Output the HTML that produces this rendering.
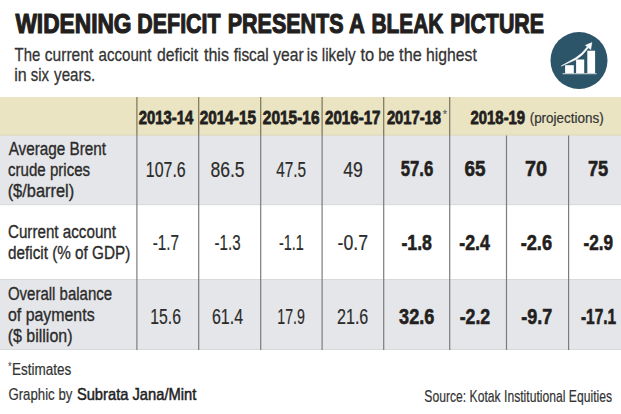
<!DOCTYPE html>
<html><head><meta charset="utf-8"><style>
html,body{margin:0;padding:0;background:#fff;}
body{width:621px;height:414px;overflow:hidden;}
svg{display:block;}
text{font-family:"Liberation Sans",sans-serif;}
</style></head><body>
<svg width="621" height="414" viewBox="0 0 621 414">
<rect width="621" height="414" fill="#fff"/>

<rect x="0" y="97" width="621" height="38.5" fill="#EAE4C3"/>
<rect x="0" y="135.5" width="621" height="69.5" fill="#E5E6E9"/>
<rect x="0" y="205" width="621" height="74" fill="#fff"/>
<rect x="0" y="279" width="621" height="71" fill="#E5E6E9"/>
<rect x="0" y="134.6" width="621" height="1" fill="#d9d5bd"/>
<rect x="0" y="204.2" width="621" height="1" fill="#d8d9db"/>
<rect x="0" y="279" width="621" height="1" fill="#d8d9db"/>
<rect x="0" y="349" width="621" height="1" fill="#d8d9db"/>
<rect x="136.3" y="97" width="1.2" height="38" fill="#78765f"/>
<rect x="136.3" y="135" width="1.2" height="215" fill="#7c7c7c"/>
<rect x="198.1" y="97" width="1.2" height="38" fill="#78765f"/>
<rect x="198.1" y="135" width="1.2" height="215" fill="#7c7c7c"/>
<rect x="260.1" y="97" width="1.2" height="38" fill="#78765f"/>
<rect x="260.1" y="135" width="1.2" height="215" fill="#7c7c7c"/>
<rect x="321.5" y="97" width="1.2" height="38" fill="#78765f"/>
<rect x="321.5" y="135" width="1.2" height="215" fill="#7c7c7c"/>
<rect x="383.1" y="97" width="1.2" height="38" fill="#78765f"/>
<rect x="383.1" y="135" width="1.2" height="215" fill="#7c7c7c"/>
<rect x="449.1" y="97" width="1.2" height="38" fill="#78765f"/>
<rect x="449.1" y="135" width="1.2" height="215" fill="#7c7c7c"/>
<rect x="505.9" y="135.5" width="1.2" height="214.5" fill="#7c7c7c"/>
<rect x="568.0" y="135.5" width="1.2" height="214.5" fill="#7c7c7c"/>


<circle cx="579" cy="60.5" r="28.5" fill="#2d5569"/>
<rect x="565.1" y="65.2" width="8.7" height="8.1" fill="#fff"/>
<rect x="576.1" y="59.5" width="8.1" height="13.8" fill="#fff"/>
<rect x="587.3" y="50.7" width="7.8" height="22.6" fill="#fff"/>
<rect x="562.6" y="73.3" width="34" height="0.9" fill="#e8eef0"/>
<path d="M561.3 66 Q570 62.2 576 59.6 Q583 55.5 588.3 47.8 L587.2 47 Q582 54 575.4 58.1 Q569 61.5 561.3 66 Z" fill="#fff" stroke="#fff" stroke-width="0.6" stroke-linejoin="round"/>
<path d="M585.4 45.3 L591.9 42.6 L590.7 49.6 Z" fill="#fff" stroke="#fff" stroke-width="0.5" stroke-linejoin="round"/>

<text x="15.40" y="33.30" font-size="27.8" font-weight="700" fill="#231f20" textLength="116.14" lengthAdjust="spacingAndGlyphs" stroke="#231f20" stroke-width="1.2" stroke-linejoin="round">WIDENING</text>
<text x="137.36" y="33.30" font-size="27.8" font-weight="700" fill="#231f20" textLength="83.19" lengthAdjust="spacingAndGlyphs" stroke="#231f20" stroke-width="1.2" stroke-linejoin="round">DEFICIT</text>
<text x="227.75" y="33.30" font-size="27.8" font-weight="700" fill="#231f20" textLength="115.71" lengthAdjust="spacingAndGlyphs" stroke="#231f20" stroke-width="1.2" stroke-linejoin="round">PRESENTS</text>
<text x="349.05" y="33.30" font-size="27.8" font-weight="700" fill="#231f20" textLength="15.85" lengthAdjust="spacingAndGlyphs" stroke="#231f20" stroke-width="1.2" stroke-linejoin="round">A</text>
<text x="371.39" y="33.30" font-size="27.8" font-weight="700" fill="#231f20" textLength="71.91" lengthAdjust="spacingAndGlyphs" stroke="#231f20" stroke-width="1.2" stroke-linejoin="round">BLEAK</text>
<text x="450.26" y="33.30" font-size="27.8" font-weight="700" fill="#231f20" textLength="93.78" lengthAdjust="spacingAndGlyphs" stroke="#231f20" stroke-width="1.2" stroke-linejoin="round">PICTURE</text>
<text x="14.61" y="60.85" font-size="19" font-weight="400" fill="#333" textLength="25.68" lengthAdjust="spacingAndGlyphs" stroke="#333" stroke-width="0.3" stroke-linejoin="round">The</text>
<text x="44.79" y="60.85" font-size="19" font-weight="400" fill="#333" textLength="48.48" lengthAdjust="spacingAndGlyphs" stroke="#333" stroke-width="0.3" stroke-linejoin="round">current</text>
<text x="98.61" y="60.85" font-size="19" font-weight="400" fill="#333" textLength="52.75" lengthAdjust="spacingAndGlyphs" stroke="#333" stroke-width="0.3" stroke-linejoin="round">account</text>
<text x="156.98" y="60.85" font-size="19" font-weight="400" fill="#333" textLength="41.19" lengthAdjust="spacingAndGlyphs" stroke="#333" stroke-width="0.3" stroke-linejoin="round">deficit</text>
<text x="204.01" y="60.85" font-size="19" font-weight="400" fill="#333" textLength="24.92" lengthAdjust="spacingAndGlyphs" stroke="#333" stroke-width="0.3" stroke-linejoin="round">this</text>
<text x="233.72" y="60.85" font-size="19" font-weight="400" fill="#333" textLength="35.08" lengthAdjust="spacingAndGlyphs" stroke="#333" stroke-width="0.3" stroke-linejoin="round">fiscal</text>
<text x="273.31" y="60.85" font-size="19" font-weight="400" fill="#333" textLength="30.38" lengthAdjust="spacingAndGlyphs" stroke="#333" stroke-width="0.3" stroke-linejoin="round">year</text>
<text x="306.85" y="60.85" font-size="19" font-weight="400" fill="#333" textLength="10.72" lengthAdjust="spacingAndGlyphs" stroke="#333" stroke-width="0.3" stroke-linejoin="round">is</text>
<text x="321.82" y="60.85" font-size="19" font-weight="400" fill="#333" textLength="33.87" lengthAdjust="spacingAndGlyphs" stroke="#333" stroke-width="0.3" stroke-linejoin="round">likely</text>
<text x="360.50" y="60.85" font-size="19" font-weight="400" fill="#333" textLength="13.73" lengthAdjust="spacingAndGlyphs" stroke="#333" stroke-width="0.3" stroke-linejoin="round">to</text>
<text x="378.20" y="60.85" font-size="19" font-weight="400" fill="#333" textLength="16.31" lengthAdjust="spacingAndGlyphs" stroke="#333" stroke-width="0.3" stroke-linejoin="round">be</text>
<text x="399.11" y="60.85" font-size="19" font-weight="400" fill="#333" textLength="22.64" lengthAdjust="spacingAndGlyphs" stroke="#333" stroke-width="0.3" stroke-linejoin="round">the</text>
<text x="426.05" y="60.85" font-size="19" font-weight="400" fill="#333" textLength="50.71" lengthAdjust="spacingAndGlyphs" stroke="#333" stroke-width="0.3" stroke-linejoin="round">highest</text>
<text x="14.27" y="81.35" font-size="19" font-weight="400" fill="#333" textLength="12.50" lengthAdjust="spacingAndGlyphs" stroke="#333" stroke-width="0.3" stroke-linejoin="round">in</text>
<text x="30.84" y="81.35" font-size="19" font-weight="400" fill="#333" textLength="18.19" lengthAdjust="spacingAndGlyphs" stroke="#333" stroke-width="0.3" stroke-linejoin="round">six</text>
<text x="54.11" y="81.35" font-size="19" font-weight="400" fill="#333" textLength="41.21" lengthAdjust="spacingAndGlyphs" stroke="#333" stroke-width="0.3" stroke-linejoin="round">years.</text>
<text x="138.78" y="123.80" font-size="18.6" font-weight="700" fill="#231f20" textLength="54.39" lengthAdjust="spacingAndGlyphs" stroke="#231f20" stroke-width="0.8" stroke-linejoin="round">2013-14</text>
<text x="199.76" y="123.80" font-size="18.6" font-weight="700" fill="#231f20" textLength="56.26" lengthAdjust="spacingAndGlyphs" stroke="#231f20" stroke-width="0.8" stroke-linejoin="round">2014-15</text>
<text x="262.86" y="123.80" font-size="18.6" font-weight="700" fill="#231f20" textLength="56.68" lengthAdjust="spacingAndGlyphs" stroke="#231f20" stroke-width="0.8" stroke-linejoin="round">2015-16</text>
<text x="325.07" y="123.80" font-size="18.6" font-weight="700" fill="#231f20" textLength="55.47" lengthAdjust="spacingAndGlyphs" stroke="#231f20" stroke-width="0.8" stroke-linejoin="round">2016-17</text>
<text x="386.88" y="123.80" font-size="18.6" font-weight="700" fill="#231f20" textLength="54.16" lengthAdjust="spacingAndGlyphs" stroke="#231f20" stroke-width="0.8" stroke-linejoin="round">2017-18</text>
<text x="470.58" y="123.80" font-size="18.6" font-weight="700" fill="#231f20" textLength="54.54" lengthAdjust="spacingAndGlyphs" stroke="#231f20" stroke-width="0.8" stroke-linejoin="round">2018-19</text>
<text x="442.98" y="117.75" font-size="11.4" font-weight="400" fill="#666" textLength="3.84" lengthAdjust="spacingAndGlyphs" stroke="#666" stroke-width="0.3" stroke-linejoin="round">*</text>
<text x="529.66" y="123.30" font-size="15" font-weight="400" fill="#333" textLength="74.04" lengthAdjust="spacingAndGlyphs" stroke="#333" stroke-width="0.2" stroke-linejoin="round">(projections)</text>
<text x="8.64" y="155.02" font-size="18.8" font-weight="400" fill="#2b2b2b" textLength="97.50" lengthAdjust="spacingAndGlyphs" stroke="#2b2b2b" stroke-width="0.35" stroke-linejoin="round">Average Brent</text>
<text x="8.03" y="176.02" font-size="18.8" font-weight="400" fill="#2b2b2b" textLength="82.11" lengthAdjust="spacingAndGlyphs" stroke="#2b2b2b" stroke-width="0.35" stroke-linejoin="round">crude prices</text>
<text x="7.65" y="196.52" font-size="18.8" font-weight="400" fill="#2b2b2b" textLength="66.55" lengthAdjust="spacingAndGlyphs" stroke="#2b2b2b" stroke-width="0.35" stroke-linejoin="round">($/barrel)</text>
<text x="7.92" y="237.92" font-size="18.8" font-weight="400" fill="#2b2b2b" textLength="108.12" lengthAdjust="spacingAndGlyphs" stroke="#2b2b2b" stroke-width="0.35" stroke-linejoin="round">Current account</text>
<text x="8.03" y="258.62" font-size="18.8" font-weight="400" fill="#2b2b2b" textLength="122.31" lengthAdjust="spacingAndGlyphs" stroke="#2b2b2b" stroke-width="0.35" stroke-linejoin="round">deficit (% of GDP)</text>
<text x="7.96" y="300.12" font-size="18.8" font-weight="400" fill="#2b2b2b" textLength="104.11" lengthAdjust="spacingAndGlyphs" stroke="#2b2b2b" stroke-width="0.35" stroke-linejoin="round">Overall balance</text>
<text x="8.00" y="320.82" font-size="18.8" font-weight="400" fill="#2b2b2b" textLength="86.58" lengthAdjust="spacingAndGlyphs" stroke="#2b2b2b" stroke-width="0.35" stroke-linejoin="round">of payments</text>
<text x="7.68" y="341.52" font-size="18.8" font-weight="400" fill="#2b2b2b" textLength="64.80" lengthAdjust="spacingAndGlyphs" stroke="#2b2b2b" stroke-width="0.35" stroke-linejoin="round">($ billion)</text>
<text x="145.81" y="176.50" font-size="22.6" font-weight="400" fill="#2b2b2b" textLength="39.87" lengthAdjust="spacingAndGlyphs" stroke="#2b2b2b" stroke-width="0.2" stroke-linejoin="round">107.6</text>
<text x="210.45" y="176.50" font-size="22.6" font-weight="400" fill="#2b2b2b" textLength="34.17" lengthAdjust="spacingAndGlyphs" stroke="#2b2b2b" stroke-width="0.2" stroke-linejoin="round">86.5</text>
<text x="276.15" y="176.50" font-size="22.6" font-weight="400" fill="#2b2b2b" textLength="29.98" lengthAdjust="spacingAndGlyphs" stroke="#2b2b2b" stroke-width="0.2" stroke-linejoin="round">47.5</text>
<text x="343.20" y="176.50" font-size="22.6" font-weight="400" fill="#2b2b2b" textLength="19.63" lengthAdjust="spacingAndGlyphs" stroke="#2b2b2b" stroke-width="0.2" stroke-linejoin="round">49</text>
<text x="400.70" y="176.30" font-size="22.2" font-weight="700" fill="#231f20" textLength="32.61" lengthAdjust="spacingAndGlyphs" stroke="#231f20" stroke-width="0.6" stroke-linejoin="round">57.6</text>
<text x="464.59" y="176.30" font-size="22.2" font-weight="700" fill="#231f20" textLength="20.97" lengthAdjust="spacingAndGlyphs" stroke="#231f20" stroke-width="0.6" stroke-linejoin="round">65</text>
<text x="525.06" y="176.30" font-size="22.2" font-weight="700" fill="#231f20" textLength="22.08" lengthAdjust="spacingAndGlyphs" stroke="#231f20" stroke-width="0.6" stroke-linejoin="round">70</text>
<text x="587.92" y="176.30" font-size="22.2" font-weight="700" fill="#231f20" textLength="20.32" lengthAdjust="spacingAndGlyphs" stroke="#231f20" stroke-width="0.6" stroke-linejoin="round">75</text>
<text x="152.71" y="250.30" font-size="22.6" font-weight="400" fill="#2b2b2b" textLength="26.36" lengthAdjust="spacingAndGlyphs" stroke="#2b2b2b" stroke-width="0.2" stroke-linejoin="round">-1.7</text>
<text x="214.52" y="250.30" font-size="22.6" font-weight="400" fill="#2b2b2b" textLength="26.03" lengthAdjust="spacingAndGlyphs" stroke="#2b2b2b" stroke-width="0.2" stroke-linejoin="round">-1.3</text>
<text x="278.95" y="250.30" font-size="22.6" font-weight="400" fill="#2b2b2b" textLength="24.84" lengthAdjust="spacingAndGlyphs" stroke="#2b2b2b" stroke-width="0.2" stroke-linejoin="round">-1.1</text>
<text x="337.50" y="250.30" font-size="22.6" font-weight="400" fill="#2b2b2b" textLength="30.49" lengthAdjust="spacingAndGlyphs" stroke="#2b2b2b" stroke-width="0.2" stroke-linejoin="round">-0.7</text>
<text x="401.39" y="250.10" font-size="22.2" font-weight="700" fill="#231f20" textLength="30.55" lengthAdjust="spacingAndGlyphs" stroke="#231f20" stroke-width="0.6" stroke-linejoin="round">-1.8</text>
<text x="459.29" y="250.10" font-size="22.2" font-weight="700" fill="#231f20" textLength="30.61" lengthAdjust="spacingAndGlyphs" stroke="#231f20" stroke-width="0.6" stroke-linejoin="round">-2.4</text>
<text x="520.67" y="250.10" font-size="22.2" font-weight="700" fill="#231f20" textLength="31.38" lengthAdjust="spacingAndGlyphs" stroke="#231f20" stroke-width="0.6" stroke-linejoin="round">-2.6</text>
<text x="583.51" y="250.10" font-size="22.2" font-weight="700" fill="#231f20" textLength="29.60" lengthAdjust="spacingAndGlyphs" stroke="#231f20" stroke-width="0.6" stroke-linejoin="round">-2.9</text>
<text x="150.32" y="323.90" font-size="22.6" font-weight="400" fill="#2b2b2b" textLength="30.67" lengthAdjust="spacingAndGlyphs" stroke="#2b2b2b" stroke-width="0.2" stroke-linejoin="round">15.6</text>
<text x="211.90" y="323.90" font-size="22.6" font-weight="400" fill="#2b2b2b" textLength="31.16" lengthAdjust="spacingAndGlyphs" stroke="#2b2b2b" stroke-width="0.2" stroke-linejoin="round">61.4</text>
<text x="277.24" y="323.90" font-size="22.6" font-weight="400" fill="#2b2b2b" textLength="27.62" lengthAdjust="spacingAndGlyphs" stroke="#2b2b2b" stroke-width="0.2" stroke-linejoin="round">17.9</text>
<text x="337.00" y="323.90" font-size="22.6" font-weight="400" fill="#2b2b2b" textLength="31.31" lengthAdjust="spacingAndGlyphs" stroke="#2b2b2b" stroke-width="0.2" stroke-linejoin="round">21.6</text>
<text x="399.09" y="323.70" font-size="22.2" font-weight="700" fill="#231f20" textLength="35.27" lengthAdjust="spacingAndGlyphs" stroke="#231f20" stroke-width="0.6" stroke-linejoin="round">32.6</text>
<text x="459.69" y="323.70" font-size="22.2" font-weight="700" fill="#231f20" textLength="30.48" lengthAdjust="spacingAndGlyphs" stroke="#231f20" stroke-width="0.6" stroke-linejoin="round">-2.2</text>
<text x="521.18" y="323.70" font-size="22.2" font-weight="700" fill="#231f20" textLength="31.00" lengthAdjust="spacingAndGlyphs" stroke="#231f20" stroke-width="0.6" stroke-linejoin="round">-9.7</text>
<text x="580.88" y="323.70" font-size="22.2" font-weight="700" fill="#231f20" textLength="35.27" lengthAdjust="spacingAndGlyphs" stroke="#231f20" stroke-width="0.6" stroke-linejoin="round">-17.1</text>
<text x="8.21" y="370.05" font-size="10" font-weight="400" fill="#666" textLength="3.18" lengthAdjust="spacingAndGlyphs" stroke="#666" stroke-width="0.3" stroke-linejoin="round">*</text>
<text x="12.09" y="374.90" font-size="16" font-weight="400" fill="#333" textLength="59.29" lengthAdjust="spacingAndGlyphs" stroke="#333" stroke-width="0.2" stroke-linejoin="round">Estimates</text>
<text x="8.44" y="399.90" font-size="16.4" font-weight="400" fill="#333" textLength="63.90" lengthAdjust="spacingAndGlyphs" stroke="#333" stroke-width="0.2" stroke-linejoin="round">Graphic by</text>
<text x="76.89" y="399.75" font-size="16.4" font-weight="400" fill="#222" textLength="119.39" lengthAdjust="spacingAndGlyphs" stroke="#222" stroke-width="0.5" stroke-linejoin="round">Subrata Jana/Mint</text>
<text x="424.35" y="402.20" font-size="16.2" font-weight="400" fill="#333" textLength="187.69" lengthAdjust="spacingAndGlyphs" stroke="#333" stroke-width="0.2" stroke-linejoin="round">Source: Kotak Institutional Equities</text>
</svg>
</body></html>
